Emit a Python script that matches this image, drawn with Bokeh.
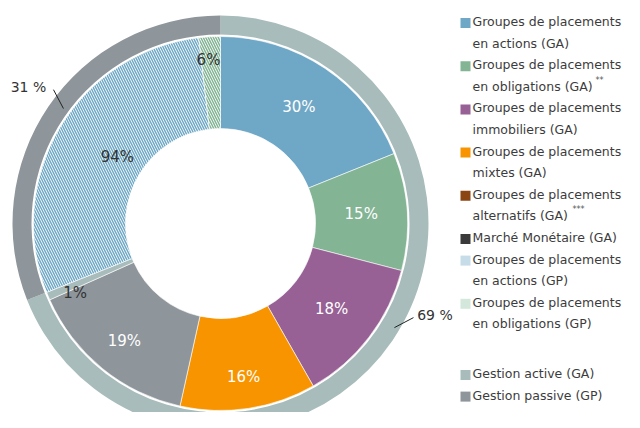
import math
from bokeh.plotting import figure
from bokeh.models import Range1d
from bokeh.core.properties import value
from bokeh.embed import file_html
from bokeh.resources import INLINE

# ---------------- data ----------------
management = ["Gestion active (GA)", "Gestion passive (GP)"]
management_share = [69, 31]                 # % of total
management_labels = ["69 %", "31 %"]

ga_categories = ["Actions (GA)", "Obligations (GA)", "Immobiliers (GA)",
                 "Mixtes (GA)", "Autres (GA)", "Reste (GA)"]
ga_share = [27.4, 14.7, 18.4, 17.0, 21.5, 1.0]
ga_labels = ["30%", "15%", "18%", "16%", "19%", "1%"]

gp_categories = ["Actions (GP)", "Obligations (GP)"]
gp_share = [94, 6]                          # % of GP
gp_labels = ["94%", "6%"]

legend_labels = [
    ["Groupes de placements", "en actions (GA)"],
    ["Groupes de placements", "en obligations (GA)"],
    ["Groupes de placements", "immobiliers (GA)"],
    ["Groupes de placements", "mixtes (GA)"],
    ["Groupes de placements", "alternatifs (GA)"],
    ["Marché Monétaire (GA)"],
    ["Groupes de placements", "en actions (GP)"],
    ["Groupes de placements", "en obligations (GP)"],
]
legend_labels_2 = [["Gestion active (GA)"], ["Gestion passive (GP)"]]
legend_notes = ["**", "***"]

# ---------------- styles ----------------
ga_colors = ["#6fa8c6", "#83b494", "#986195", "#f79400", "#8e959b", "#a7bcbb"]
gp_hatch_colors = ["#6fa8c6", "#83b494"]
ring_colors = ["#a7bcbb", "#8e959b"]
legend_colors = ["#6fa8c6", "#83b494", "#986195", "#f79400", "#8b4513",
                 "#3a3a3a", "#c6dde9", "#d3e7da"]
legend_colors_2 = ["#a7bcbb", "#8e959b"]
ga_text_colors = ["white", "white", "white", "white", "white", "#333333"]
FONT = value("DejaVu Sans")

# layout (reference pixels, mapped 1:1 onto the figure)
W, H = 624, 412
CX, CY = 220, 223
R_HOLE, R_PIE, R_RING_IN, R_RING_OUT = 95, 187, 189, 208
ga_label_pos = [(140, None), (141, None), (140, None), (155, None), (152, None), (161, 244.6)]
gp_label_pos = [(123, 303.0), (164, 355.8)]
leaders = [((202.7, 120.9), (214.7, 116.0)), ((194.6, 306.2), (214.0, 308.7))]
outer_label_xy = [(434.5, 314), (28, 86)]
LEG_FONT = "12.5px"
LINE_H = 21.6
Y0 = 21
SQ_X, TX_X = 465, 472
note_xy = [(599, Y0 + 3 * LINE_H - 6), (578, Y0 + 9 * LINE_H - 6)]


def to_xy(r, theta):
    t = math.radians(theta)
    return r * math.sin(t), r * math.cos(t)


def sx(x):
    return x - CX


def sy(y):
    return CY - y


def bang(theta):
    return math.radians(90 - theta)


p = figure(width=W, height=H, output_backend="svg", toolbar_location=None,
           x_range=Range1d(0 - CX, W - CX), y_range=Range1d(CY - H, CY),
           min_border=0, outline_line_color=None, background_fill_color="white")
p.axis.visible = False
p.grid.visible = False

# outer ring
total = sum(management_share)
start = 0.0
ring_bounds = []
for share, col in zip(management_share, ring_colors):
    end = start + 360.0 * share / total
    ring_bounds.append((start, end))
    p.annular_wedge(x=0, y=0, inner_radius=R_RING_IN, outer_radius=R_RING_OUT,
                    start_angle=bang(end), end_angle=bang(start),
                    fill_color=col, line_color=None)
    start = end

# GA slices
ga_start, ga_end = ring_bounds[0]
span = ga_end - ga_start
tot = sum(ga_share)
a = ga_start
ga_mid = []
for share, col in zip(ga_share, ga_colors):
    b = a + span * share / tot
    p.annular_wedge(x=0, y=0, inner_radius=R_HOLE, outer_radius=R_PIE,
                    start_angle=bang(b), end_angle=bang(a),
                    fill_color=col, line_color="white", line_width=0.6)
    ga_mid.append((a + b) / 2)
    a = b

# GP slices (hatched)
gp_start, gp_end = ring_bounds[1]
span = gp_end - gp_start
tot = sum(gp_share)
a = gp_start
for share, col in zip(gp_share, gp_hatch_colors):
    b = a + span * share / tot
    p.annular_wedge(x=0, y=0, inner_radius=R_HOLE, outer_radius=R_PIE,
                    start_angle=bang(b), end_angle=bang(a),
                    fill_color="white", line_color="white", line_width=0.6,
                    hatch_pattern="\\", hatch_color=col, hatch_scale=5, hatch_weight=1.5)
    a = b

# slice labels
for lab, mid, (r, th), tc in zip(ga_labels, ga_mid, ga_label_pos, ga_text_colors):
    x, y = to_xy(r, th if th is not None else mid)
    p.text(x=[x], y=[y], text=[lab], text_font=FONT, text_font_size="15px",
           text_color=tc, text_align="center", text_baseline="middle")
for lab, (r, th) in zip(gp_labels, gp_label_pos):
    x, y = to_xy(r, th)
    p.text(x=[x], y=[y], text=[lab], text_font=FONT, text_font_size="15px",
           text_color="#333333", text_align="center", text_baseline="middle")

# leaders + outer labels
for ((r0, t0), (r1, t1)), lab, (lx, ly) in zip(leaders, management_labels, outer_label_xy):
    x0, y0 = to_xy(r0, t0)
    x1, y1 = to_xy(r1, t1)
    p.line(x=[x0, x1], y=[y0, y1], line_color="#222222", line_width=1)
    p.text(x=[sx(lx)], y=[sy(ly)], text=[lab], text_font=FONT, text_font_size="14px",
           text_color="#333333", text_align="center", text_baseline="middle")


# legend
def draw_legend(items, colors, y_start):
    row = 0
    for lines, col in zip(items, colors):
        y = y_start + row * LINE_H
        p.rect(x=[sx(SQ_X)], y=[sy(y + 1.5)], width=10, height=10,
               fill_color=col, line_color=None)
        for k, ln in enumerate(lines):
            p.text(x=[sx(TX_X)], y=[sy(y + k * LINE_H)], text=[ln], text_font=FONT,
                   text_font_size=LEG_FONT, text_color="#3c3c3c",
                   text_align="left", text_baseline="middle")
        row += len(lines)


draw_legend(legend_labels, legend_colors, Y0)
draw_legend(legend_labels_2, legend_colors_2, 373)

# footnote marks
for note, (nx, ny) in zip(legend_notes, note_xy):
    p.text(x=[sx(nx)], y=[sy(ny)], text=[note], text_font=FONT, text_font_size="8px",
           text_color="#555555", text_align="center", text_baseline="middle")

open("out.html", "w").write(file_html(p, INLINE))
